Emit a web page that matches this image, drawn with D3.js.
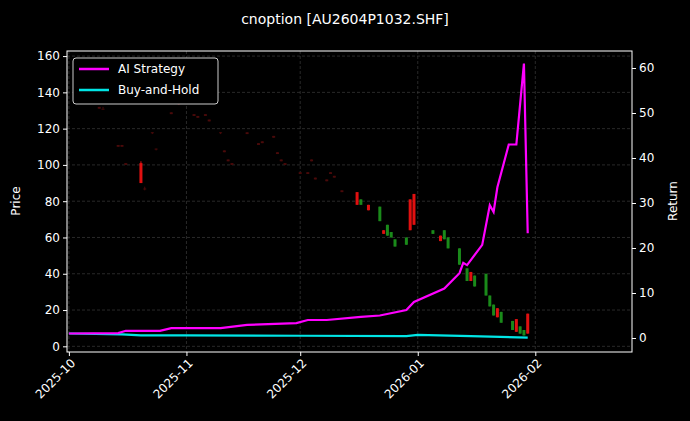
<!DOCTYPE html>
<html><head><meta charset="utf-8">
<script src="https://cdn.jsdelivr.net/npm/d3@7"></script>
<style>body{margin:0;background:#000}text{font-family:"DejaVu Sans",sans-serif}</style>
</head><body>
<div id="chart"></div>
<script>
// candles: date, open, high, low, close, faint
var candles = [
 ["2025-10-09",132,132,131,131,1],["2025-10-10",131,132,131,131,1],["2025-10-14",111,111,110,110,1],
 ["2025-10-15",111,111,110,110,1],["2025-10-16",101,101,100,100,1],["2025-10-20",101,102,90,90,0],
 ["2025-10-21",87,88,86,87,1],["2025-10-23",118,118,117,118,1],["2025-10-24",109,109,108,109,1],
 ["2025-10-28",129,129,128,128,1],["2025-10-30",134,134,133,134,1],["2025-11-03",128,128,127,127,1],
 ["2025-11-04",127,127,126,126,1],["2025-11-06",128,128,127,127,1],["2025-11-07",125,125,124,124,1],
 ["2025-11-10",118,118,117,118,1],["2025-11-11",108,108,107,107,1],["2025-11-12",103,103,102,102,1],
 ["2025-11-13",101,101,100,100,1],["2025-11-17",118,118,117,117,1],["2025-11-20",112,112,111,111,1],
 ["2025-11-21",113,113,112,112,1],["2025-11-24",116,116,115,115,1],["2025-11-25",107,107,106,106,1],
 ["2025-11-26",103,103,102,102,1],["2025-11-27",101,101,100,100,1],["2025-12-01",96,96,95,95,1],
 ["2025-12-03",96,96,95,95,1],["2025-12-04",103,103,102,102,1],["2025-12-05",93,93,92,92,1],
 ["2025-12-08",92,92,91,91,1],["2025-12-09",96,96,95,95,1],["2025-12-10",94,94,93,93,1],
 ["2025-12-12",86,86,85,85,1],["2025-12-16",85,85,78,78,0],["2025-12-17",78,81,78,81,0],
 ["2025-12-19",78,78,75,75,0],["2025-12-22",69,77,69,77,0],["2025-12-23",64,64,62,62,0],
 ["2025-12-24",61,67,61,67,0],["2025-12-25",60,63,60,63,0],["2025-12-26",55,59,55,59,0],
 ["2025-12-29",56,60,56,60,0],["2025-12-30",81,81,64,64,0],["2025-12-31",84,84,67,67,0],
 ["2026-01-05",62,64,62,64,0],["2026-01-07",61,61,58,58,0],["2026-01-08",59,64,59,64,0],
 ["2026-01-09",54,60,54,60,0],["2026-01-12",45,54,45,54,0],["2026-01-14",36,43,36,43,0],
 ["2026-01-15",41,41,36,36,0],["2026-01-16",33,39,33,39,0],["2026-01-19",28,40,28,40,0],
 ["2026-01-20",22,28,22,28,0],["2026-01-21",17,23,17,23,0],["2026-01-22",21,21,16,16,0],
 ["2026-01-23",13,19,13,19,0],["2026-01-26",9,14,9,14,0],["2026-01-27",15,15,8,8,0],
 ["2026-01-28",7,11,7,11,0],["2026-01-29",6,9,6,9,0],["2026-01-30",18,18,7,7,0]
];
var stratDates = ["2025-10-01","2025-10-14","2025-10-16","2025-10-25","2025-10-28","2025-11-10","2025-11-17",
 "2025-11-30","2025-12-03","2025-12-08","2025-12-17","2025-12-22","2025-12-29","2025-12-31","2026-01-08",
 "2026-01-12","2026-01-13","2026-01-14","2026-01-18","2026-01-20","2026-01-21","2026-01-22","2026-01-25",
 "2026-01-27","2026-01-29","2026-01-30"];
var stratVals = [1,1.1,1.6,1.6,2.2,2.2,2.9,3.3,4,4,4.7,5,6.2,8,11,14.4,16.7,16.2,20.7,29.5,28,33.5,43,43,61,23.3];
var bhDates = ["2025-10-01","2025-10-15","2025-10-20","2025-11-01","2025-12-01","2025-12-29","2026-01-01","2026-01-15","2026-01-30"];
var bhVals = [1,0.8,0.6,0.6,0.5,0.4,0.7,0.4,0.1];
var priceTicks = [0,20,40,60,80,100,120,140,160];
var returnTicks = [0,10,20,30,40,50,60];
var monthTicks = ["2025-10-01","2025-11-01","2025-12-01","2026-01-01","2026-02-01"];

var W = 690, H = 421, m = {l:67, r:58, t:51, b:69};
var parse = d3.timeParse("%Y-%m-%d");
var svg = d3.select("#chart").append("svg").attr("width", W).attr("height", H).style("background","#000");

var x = d3.scaleTime().domain([new Date(2025,8,30,12), new Date(2026,1,26,12)]).range([m.l, W-m.r]);
var y = d3.scaleLinear().domain([-3.13, 162.8]).range([352, 51]);
var y2 = d3.scaleLinear().domain([0,60]).range([338,68]);
y2.domain([y2.invert(352), y2.invert(51)]).range([352,51]);

var g = svg.append("g");
// grid
g.selectAll(".hg").data(priceTicks).enter().append("line")
  .attr("x1", m.l).attr("x2", W-m.r).attr("y1", d=>y(d)).attr("y2", d=>y(d))
  .style("stroke","#444").style("stroke-dasharray","3,2").style("stroke-width",0.6);
g.selectAll(".vg").data(monthTicks).enter().append("line")
  .attr("x1", d=>x(parse(d))).attr("x2", d=>x(parse(d))).attr("y1",51).attr("y2",352)
  .style("stroke","#444").style("stroke-dasharray","3,2").style("stroke-width",0.6);

// candles
candles.forEach(function(c){
  var cx = x(parse(c[0])), up = c[4] >= c[1];
  var col = c[5] ? "#4a0a0a" : (up ? "#1a8a1a" : "#e01010");
  g.append("line").attr("x1",cx).attr("x2",cx).attr("y1",y(c[2])).attr("y2",y(c[3]))
    .style("stroke",col).style("stroke-width",1);
  g.append("rect").attr("x",cx-1.5).attr("width",3)
    .attr("y",y(Math.max(c[1],c[4]))).attr("height",Math.max(1,Math.abs(y(c[1])-y(c[4]))))
    .style("fill",col);
});

var line = d3.line().x(d=>x(parse(d[0]))).y(d=>y2(d[1]));
g.append("path").datum(bhDates.map((d,i)=>[d,bhVals[i]])).attr("d",line)
  .style("fill","none").style("stroke","#00e5e5").style("stroke-width",2.2);
g.append("path").datum(stratDates.map((d,i)=>[d,stratVals[i]])).attr("d",line)
  .style("fill","none").style("stroke","#ff00ff").style("stroke-width",2.2);

svg.append("rect").attr("x",m.l).attr("y",51).attr("width",W-m.r-m.l).attr("height",301)
  .style("fill","none").style("stroke","#fff").style("stroke-width",1);

var ax = svg.append("g").attr("transform","translate(0,352)")
  .call(d3.axisBottom(x).tickValues(monthTicks.map(parse)).tickFormat(d3.timeFormat("%Y-%m")).tickSize(4));
ax.selectAll("text").attr("transform","rotate(-45)").style("text-anchor","end").attr("dx","-0.3em").attr("dy","0.5em");
var ay = svg.append("g").attr("transform","translate("+m.l+",0)").call(d3.axisLeft(y).tickValues(priceTicks).tickSize(4));
var ay2 = svg.append("g").attr("transform","translate("+(W-m.r)+",0)").call(d3.axisRight(y2).tickValues(returnTicks).tickSize(4));
[ax,ay,ay2].forEach(function(a){
  a.select(".domain").remove();
  a.selectAll("line").style("stroke","#fff");
  a.selectAll("text").style("fill","#fff").style("font-size","12px").style("font-family","DejaVu Sans");
});

svg.append("text").attr("x",345).attr("y",24).attr("text-anchor","middle").style("fill","#fff").style("font-size","14px").text("cnoption [AU2604P1032.SHF]");
svg.append("text").attr("transform","translate(20,201) rotate(-90)").attr("text-anchor","middle").style("fill","#fff").style("font-size","12px").text("Price");
svg.append("text").attr("transform","translate(677,201) rotate(-90)").attr("text-anchor","middle").style("fill","#fff").style("font-size","12px").text("Return");

// legend
var lg = svg.append("g").attr("transform","translate(73,58)");
lg.append("rect").attr("width",145).attr("height",46).attr("rx",3).style("fill","#000").style("stroke","#ccc");
[["AI Strategy","#ff00ff"],["Buy-and-Hold","#00e5e5"]].forEach(function(d,i){
  lg.append("line").attr("x1",6).attr("x2",36).attr("y1",11+i*21).attr("y2",11+i*21).style("stroke",d[1]).style("stroke-width",2.5);
  lg.append("text").attr("x",45).attr("y",15+i*21).style("fill","#fff").style("font-size","12px").text(d[0]);
});
</script>
</body></html>
